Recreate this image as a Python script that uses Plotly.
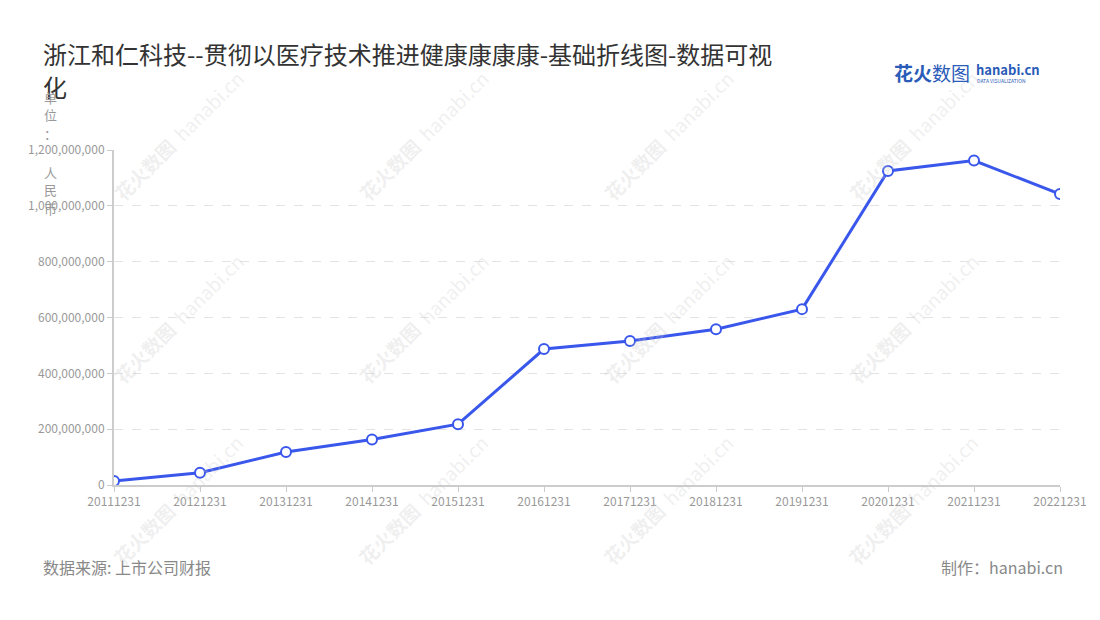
import plotly.graph_objects as go

years = ["20111231", "20121231", "20131231", "20141231", "20151231", "20161231",
         "20171231", "20181231", "20191231", "20201231", "20211231", "20221231"]
values = [14e6, 44e6, 118e6, 163e6, 218e6, 487e6,
          516e6, 558e6, 630e6, 1125e6, 1162e6, 1042e6]
y_ticks = [0, 200e6, 400e6, 600e6, 800e6, 1000e6, 1200e6]

FONT = "Noto Sans CJK SC"
BLUE = "#3a57ec"
W, H = 1100, 620
PAGE_OFFSET = 8  # the page body margin shifts the figure
L, R, T, B = 114, 1060, 150, 485  # plot area on the page


def px(x, y):
    # page pixels -> paper coordinates
    fx = x - PAGE_OFFSET
    fy = y - PAGE_OFFSET
    l, r, t, b = L - PAGE_OFFSET, R - PAGE_OFFSET, T - PAGE_OFFSET, B - PAGE_OFFSET
    return (fx - l) / (r - l), (b - fy) / (b - t)


def text(fig, x, y, s, size, color, xanchor="left", yanchor="middle", angle=0):
    ax, ay = px(x, y)
    fig.add_annotation(
        x=ax, y=ay, xref="paper", yref="paper",
        xanchor=xanchor, yanchor=yanchor, showarrow=False,
        text=s, textangle=angle,
        font={"family": FONT, "size": size, "color": color},
    )


def main():
    line = go.Scatter(
        x=years,
        y=values,
        mode="lines+markers",
        line={"color": BLUE, "width": 3},
        marker={"size": 10, "color": "white", "line": {"color": BLUE, "width": 2}},
        showlegend=False,
        hoverinfo="x+y",
    )

    fig = go.Figure(data=[line])

    # watermark grid
    for wx in [178, 423, 668, 913]:
        for wy in [135, 318, 500]:
            text(fig, wx, wy, "<b>花火数图</b>  hanabi.cn", 19,
                 "rgba(200,200,200,0.28)", xanchor="center", angle=-45)

    fig.update_layout(
        width=W,
        height=H,
        paper_bgcolor="white",
        plot_bgcolor="white",
        margin={"l": L - PAGE_OFFSET, "r": W - (R - PAGE_OFFSET),
                "t": T - PAGE_OFFSET, "b": H - (B - PAGE_OFFSET)},
        font={"family": FONT, "color": "#999999", "size": 12},
        xaxis={
            "type": "category",
            "range": [0, 11],
            "showgrid": False,
            "showline": True,
            "linecolor": "#cccccc",
            "linewidth": 2,
            "ticks": "outside",
            "tickcolor": "#cccccc",
            "ticklen": 5,
            "tickfont": {"size": 12, "color": "#999999"},
            "fixedrange": True,
        },
        yaxis={
            "range": [0, 1.2e9],
            "tickvals": y_ticks,
            "tickformat": ",",
            "showgrid": True,
            "gridcolor": "#e3e3e3",
            "griddash": "dash",
            "showline": True,
            "linecolor": "#cccccc",
            "linewidth": 2,
            "ticks": "outside",
            "tickcolor": "#cccccc",
            "ticklen": 5,
            "zeroline": False,
            "tickfont": {"size": 12, "color": "#999999"},
            "fixedrange": True,
        },
    )

    # title (wrapped like the original)
    text(fig, 41, 54, "浙江和仁科技--贯彻以医疗技术推进健康康康康-基础折线图-数据可视", 24, "#333333")
    text(fig, 41, 86, "化", 24, "#333333")

    # vertical unit label
    for ch, cy in zip(["单", "位", "：", "人", "民", "币"], [97, 115, 133, 172, 189, 208]):
        text(fig, 50, cy, ch, 13, "#999999", xanchor="center")

    # logo
    text(fig, 892, 72, "<b>花火</b>数图", 19, "#2a5bb8")
    text(fig, 974, 69, "<b>hanabi.cn</b>", 13, "#2a5bb8")
    text(fig, 975, 80, "DATA VISUALIZATION", 5, "#2a5bb8")

    # footer
    text(fig, 41, 567, "数据来源: 上市公司财报", 16, "#888888")
    text(fig, 1065, 567, "制作：hanabi.cn", 16, "#888888", xanchor="right")

    fig.write_html("out.html")


if __name__ == "__main__":
    main()
